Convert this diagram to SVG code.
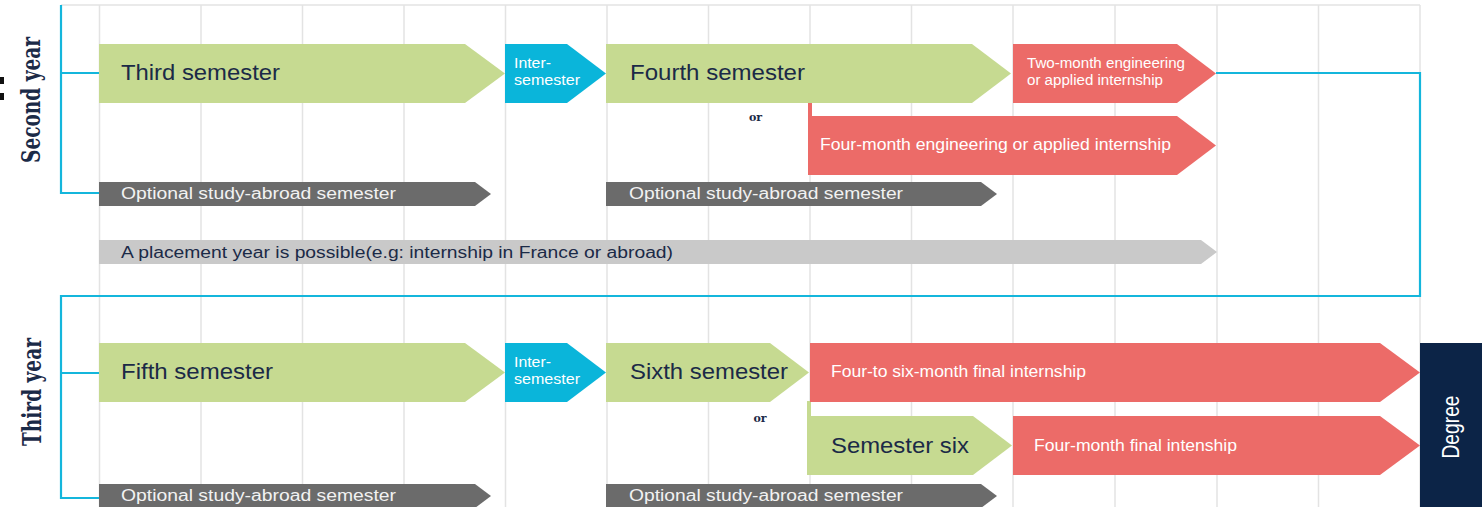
<svg xmlns="http://www.w3.org/2000/svg" width="1482" height="507" viewBox="0 0 1482 507">
<style>
.bg{fill:#ffffff}
.grid{stroke:#e3e3e3;stroke-width:1.5;fill:none}
.green{fill:#c6da91}
.cyan{fill:#0ab5da}
.red{fill:#ec6b68}
.dgray{fill:#6b6b6b}
.lgray{fill:#c9c9c9}
.navy{fill:#0c2447}
.conn{stroke:#14b6dc;stroke-width:2.2;fill:none}
.big{font-family:"Liberation Sans",Arial,sans-serif;font-size:22px;fill:#1b2a47}
.small{font-family:"Liberation Sans",Arial,sans-serif;font-size:14px;fill:#ffffff}
.mid{font-family:"Liberation Sans",Arial,sans-serif;font-size:16px;fill:#ffffff}
.opt{font-family:"Liberation Sans",Arial,sans-serif;font-size:16px;fill:#f2f2f2}
.plc{font-family:"Liberation Sans",Arial,sans-serif;font-size:16px;fill:#1b2a47}
.year{font-family:"DejaVu Serif",serif;font-weight:bold;font-size:26px;fill:#1b2a47}
.or{font-family:"DejaVu Serif",serif;font-weight:bold;font-size:11px;fill:#1b2a47}
.deg{font-family:"Liberation Sans",Arial,sans-serif;font-size:24px;fill:#ffffff}
</style>
<rect class="bg" x="0" y="0" width="1482" height="507"/>
<g id="grid">
<line class="grid" x1="61" y1="5" x2="1420" y2="5"/>
<line class="grid" x1="99.5" y1="5" x2="99.5" y2="507"/>
<line class="grid" x1="201" y1="5" x2="201" y2="507"/>
<line class="grid" x1="302.5" y1="5" x2="302.5" y2="507"/>
<line class="grid" x1="404" y1="5" x2="404" y2="507"/>
<line class="grid" x1="505.5" y1="5" x2="505.5" y2="507"/>
<line class="grid" x1="607" y1="5" x2="607" y2="507"/>
<line class="grid" x1="708.5" y1="5" x2="708.5" y2="507"/>
<line class="grid" x1="810" y1="5" x2="810" y2="507"/>
<line class="grid" x1="911.5" y1="5" x2="911.5" y2="507"/>
<line class="grid" x1="1013" y1="5" x2="1013" y2="507"/>
<line class="grid" x1="1115" y1="5" x2="1115" y2="507"/>
<line class="grid" x1="1217" y1="5" x2="1217" y2="507"/>
<line class="grid" x1="1318.5" y1="5" x2="1318.5" y2="507"/>
<line class="grid" x1="1420" y1="5" x2="1420" y2="507"/>
</g>
<g id="edge-marks">
<rect x="0" y="77" width="4" height="7" fill="#111"/>
<rect x="0" y="93" width="4" height="7" fill="#111"/>
</g>
<g id="connectors">
<polyline class="conn" points="61,5 61,193 99,193"/>
<line class="conn" x1="61" y1="73" x2="99" y2="73"/>
<polyline class="conn" points="1216,73 1420,73 1420,296 61,296 61,498 99,498"/>
<line class="conn" x1="61" y1="373" x2="99" y2="373"/>
<rect x="808" y="102" width="4" height="15" fill="#ec6b68"/>
<rect x="807" y="401" width="4" height="16" fill="#c6da91"/>
</g>
<g id="label-second-year">
<text class="year" transform="translate(40,100) rotate(-90)" text-anchor="middle" textLength="126" lengthAdjust="spacingAndGlyphs">Second year</text>
</g>
<g id="label-third-year">
<text class="year" transform="translate(41,392) rotate(-90)" text-anchor="middle" textLength="108" lengthAdjust="spacingAndGlyphs">Third year</text>
</g>
<g id="third-semester">
<polygon class="green" points="99,44 465,44 505,73.5 465,103 99,103"/>
<text class="big" x="121" y="80" textLength="159" lengthAdjust="spacingAndGlyphs">Third semester</text>
</g>
<g id="inter-semester-1">
<polygon class="cyan" points="505,44 567,44 606,73.5 567,103 505,103"/>
<text class="small" x="514" y="68" textLength="37" lengthAdjust="spacingAndGlyphs">Inter-</text>
<text class="small" x="514" y="85" textLength="66" lengthAdjust="spacingAndGlyphs">semester</text>
</g>
<g id="fourth-semester">
<polygon class="green" points="606,44 972,44 1011,73.5 972,103 606,103"/>
<text class="big" x="630" y="80" textLength="175" lengthAdjust="spacingAndGlyphs">Fourth semester</text>
</g>
<g id="two-month-internship">
<polygon class="red" points="1013,44 1177,44 1216,73.5 1177,103 1013,103"/>
<text class="small" x="1027" y="68" textLength="158" lengthAdjust="spacingAndGlyphs">Two-month engineering</text>
<text class="small" x="1027" y="85" textLength="136" lengthAdjust="spacingAndGlyphs">or applied internship</text>
</g>
<g id="or-1">
<text class="or" x="755.5" y="121" text-anchor="middle">or</text>
</g>
<g id="four-month-internship">
<polygon class="red" points="808,116 1177,116 1216,145.5 1177,175 808,175"/>
<text class="mid" x="820" y="150" textLength="351" lengthAdjust="spacingAndGlyphs">Four-month engineering or applied internship</text>
</g>
<g id="optional-abroad-1">
<polygon class="dgray" points="99,182 475,182 491,194 475,206 99,206"/>
<text class="opt" x="121" y="199" textLength="275" lengthAdjust="spacingAndGlyphs">Optional study-abroad semester</text>
</g>
<g id="optional-abroad-2">
<polygon class="dgray" points="606,182 981,182 997,194 981,206 606,206"/>
<text class="opt" x="629" y="199" textLength="274" lengthAdjust="spacingAndGlyphs">Optional study-abroad semester</text>
</g>
<g id="placement-year">
<polygon class="lgray" points="99,240 1201,240 1217,252 1201,264 99,264"/>
<text class="plc" x="121" y="258" textLength="552" lengthAdjust="spacingAndGlyphs">A placement year is possible(e.g: internship in France or abroad)</text>
</g>
<g id="fifth-semester">
<polygon class="green" points="99,343 465,343 505,372.5 465,402 99,402"/>
<text class="big" x="121" y="379" textLength="152" lengthAdjust="spacingAndGlyphs">Fifth semester</text>
</g>
<g id="inter-semester-2">
<polygon class="cyan" points="505,343 567,343 606,372.5 567,402 505,402"/>
<text class="small" x="514" y="367" textLength="37" lengthAdjust="spacingAndGlyphs">Inter-</text>
<text class="small" x="514" y="384" textLength="66" lengthAdjust="spacingAndGlyphs">semester</text>
</g>
<g id="sixth-semester">
<polygon class="green" points="606,343 770,343 809,372.5 770,402 606,402"/>
<text class="big" x="630" y="379" textLength="158" lengthAdjust="spacingAndGlyphs">Sixth semester</text>
</g>
<g id="final-internship">
<polygon class="red" points="810,343 1380,343 1420,372.5 1380,402 810,402"/>
<text class="mid" x="831" y="377" textLength="255" lengthAdjust="spacingAndGlyphs">Four-to six-month final internship</text>
</g>
<g id="or-2">
<text class="or" x="760" y="422" text-anchor="middle">or</text>
</g>
<g id="semester-six">
<polygon class="green" points="807,416 973,416 1012,445.5 973,475 807,475"/>
<text class="big" x="831" y="453" textLength="138" lengthAdjust="spacingAndGlyphs">Semester six</text>
</g>
<g id="four-month-final">
<polygon class="red" points="1013,416 1380,416 1420,445.5 1380,475 1013,475"/>
<text class="mid" x="1034" y="451" textLength="203" lengthAdjust="spacingAndGlyphs">Four-month final intenship</text>
</g>
<g id="optional-abroad-3">
<polygon class="dgray" points="99,484 475,484 491,496 475,508 99,508"/>
<text class="opt" x="121" y="501" textLength="275" lengthAdjust="spacingAndGlyphs">Optional study-abroad semester</text>
</g>
<g id="optional-abroad-4">
<polygon class="dgray" points="606,484 981,484 997,496 981,508 606,508"/>
<text class="opt" x="629" y="501" textLength="274" lengthAdjust="spacingAndGlyphs">Optional study-abroad semester</text>
</g>
<g id="degree">
<rect class="navy" x="1420" y="343" width="62" height="164"/>
<text class="deg" transform="translate(1459,427) rotate(-90)" text-anchor="middle" textLength="63" lengthAdjust="spacingAndGlyphs">Degree</text>
</g>
</svg>
